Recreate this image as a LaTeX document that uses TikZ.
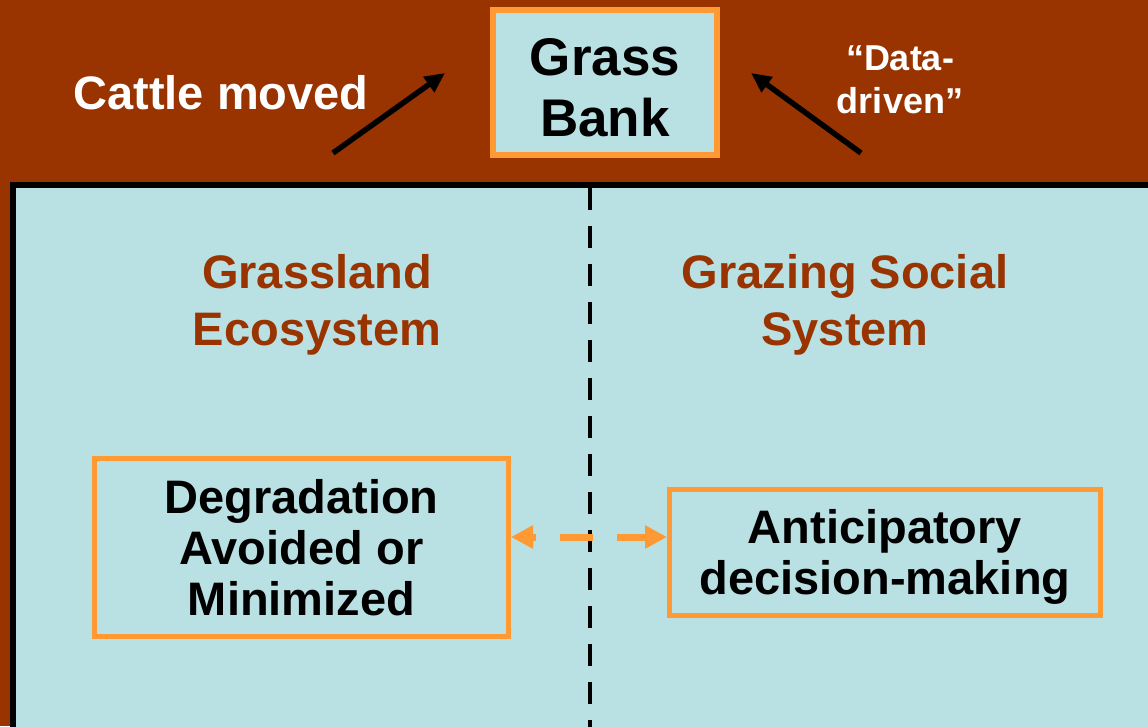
\documentclass[tikz,border=0pt]{standalone}
\usepackage{fontspec}
\setmainfont{Liberation Sans}
\usetikzlibrary{calc}
\usetikzlibrary{arrows.meta}

\definecolor{rust}{HTML}{993300}
\definecolor{paleblue}{HTML}{B9E0E3}
\definecolor{amber}{HTML}{FF9933}

\tikzset{
  box/.style={draw=amber, line width=5, fill=paleblue, inner sep=0, align=center},
  big/.style={font=\fontsize{47}{51}\selectfont\bfseries, align=center, inner sep=0},
}

\begin{document}
\begin{tikzpicture} [x=1pt, y=-1pt]

\fill[rust] (0,0) rectangle (1148,726);
\useasboundingbox (0,0) rectangle (1148,726);

\coordinate (A) at (333,153);
\coordinate (B) at (445,73);
\coordinate (C) at (861,153);
\coordinate (D) at (751,73);
\coordinate (M) at (590,537);

\draw[black, line width=6, fill=paleblue] (13,185) rectangle (1170,760);
\draw[black, line width=4, dash pattern=on 22 off 16] (590,188) -- (590,730);

\node[box, line width=6, minimum width=224, minimum height=145,
      font=\fontsize{53}{61}\selectfont\bfseries] (bank) at (605,82) {\rule{0pt}{49pt}Grass\\Bank};

\node[big, white] (cattle) at (221,93) {Cattle moved};
\node[white, align=center, inner sep=0, font=\fontsize{36}{43}\selectfont\bfseries] (data) at (900,80) {“Data-\\driven”};

\node[big, rust, font=\fontsize{47}{57}\selectfont\bfseries] (eco) at (317,305) {Grassland\\Ecosystem};
\node[big, rust, font=\fontsize{47}{57}\selectfont\bfseries] (social) at (845,305) {Grazing Social\\System};

\node[box, big, minimum width=414, minimum height=178] (degr) at (301.5,547.5) {Degradation\\Avoided or\\Minimized};
\node[box, big, minimum width=431, minimum height=126] (antic) at (885,552.5) {\rule{0pt}{43pt}Anticipatory\\decision-making};

\draw[black, line width=5.5, -{Triangle[length=20, width=18]}] (A) -- (B);
\draw[black, line width=5.5, -{Triangle[length=20, width=18]}] (C) -- (D);

\draw[amber, line width=7, dash pattern=on 33 off 24, dash phase=29,
      {Triangle[length=22, width=22]}-{Triangle[length=22, width=22]}]
      (degr.east |- M) -- (antic.west |- M);

\end{tikzpicture}
\end{document}
